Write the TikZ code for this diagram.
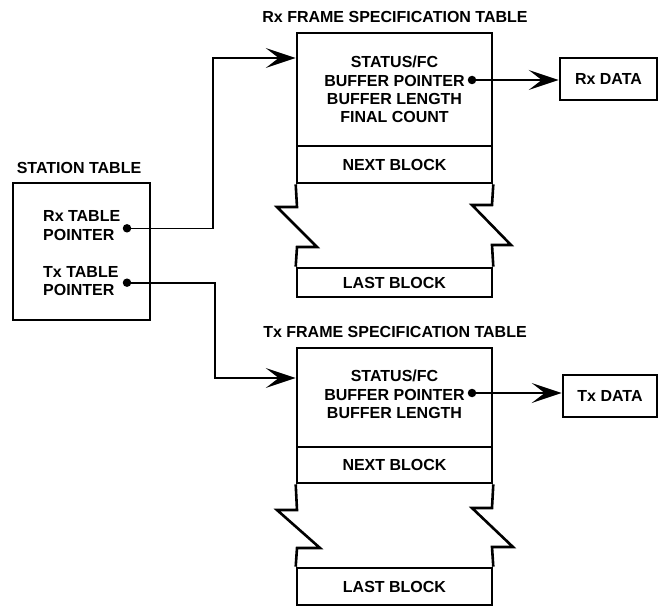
\documentclass[tikz,border=0pt]{standalone}
\usepackage{fontspec}
\setmainfont{Liberation Sans}
\usetikzlibrary{arrows.meta}
\tikzset{
  txtfont/.style={font=\fontsize{16}{18.3}\selectfont\bfseries},
  box/.style={draw, line width=2.6pt, inner sep=0pt, rectangle, txtfont},
  lbl/.style={inner sep=0pt, align=center, txtfont},
  conn/.style={line width=1.6pt},
  arr/.style={conn, -{Stealth[length=30pt,width=20pt,inset=13pt]}},
  dotc/.style={circle, fill, inner sep=0pt, minimum size=8.5pt},
  brk/.style={line width=2.6pt, line join=miter},
}
\begin{document}
\begin{tikzpicture}[x=1pt, y=-1pt]
\useasboundingbox (0,0) rectangle (659,607);

% Station table
\node[lbl] (sttitle) at (79,168) {STATION TABLE};
\node[box, minimum width=137pt, minimum height=137pt] (station) at (81.5,251.5) {};
\node[lbl, align=left, anchor=west] (rxptr) at (43,225.5) {Rx TABLE\\POINTER};
\node[lbl, align=left, anchor=west] (txptr) at (43,281) {Tx TABLE\\POINTER};
\node[dotc] (rxdot) at (127,228.3) {};
\node[dotc] (txdot) at (127,282.7) {};

% Rx frame specification table
\node[lbl] (rxtitle) at (395,17) {Rx FRAME SPECIFICATION TABLE};
\node[box, minimum width=195pt, minimum height=113pt] (rxmain) at (394.5,89.5) {};
\node[lbl] (rxtext) at (394.5,89.5) {STATUS/FC\\BUFFER POINTER\\BUFFER LENGTH\\FINAL COUNT};
\node[box, minimum width=195pt, minimum height=37pt] (rxnext) at (394.5,164.5) {NEXT BLOCK};
\node[box, minimum width=195pt, minimum height=29pt] (rxlast) at (394.5,282.5) {LAST BLOCK};
\node[dotc] (rxbp) at (472,80) {};
\draw[brk] (rxnext.south west) -- (297,207) -- (277,207) -- (317,247) -- (297,247) -- (rxlast.north west);
\draw[brk] (rxnext.south east) -- (492,205) -- (472,205) -- (511,245) -- (492,245) -- (rxlast.north east);
\node[box, minimum width=97pt, minimum height=42pt] (rxdata) at (608.5,79) {Rx DATA};

% Tx frame specification table
\node[lbl] (txtitle) at (395,332) {Tx FRAME SPECIFICATION TABLE};
\node[box, minimum width=195pt, minimum height=99pt] (txmain) at (394.5,397.5) {};
\node[lbl] (txtext) at (394.5,394.5) {STATUS/FC\\BUFFER POINTER\\BUFFER LENGTH};
\node[box, minimum width=195pt, minimum height=36pt] (txnext) at (394.5,465) {NEXT BLOCK};
\node[box, minimum width=195pt, minimum height=37pt] (txlast) at (394.5,586.5) {LAST BLOCK};
\node[dotc] (txbp) at (472,393) {};
\draw[brk] (txnext.south west) -- (297,510) -- (277,510) -- (320,548) -- (297,548) -- (txlast.north west);
\draw[brk] (txnext.south east) -- (492,508) -- (472,508) -- (513,547) -- (492,547) -- (txlast.north east);
\node[box, minimum width=94pt, minimum height=42pt] (txdata) at (610,396) {Tx DATA};

% connectors
\coordinate (rxbend) at (213,58);
\coordinate (txbend) at (215,378);
\draw[arr] (rxdot.center) -| (rxbend) -- (rxbend -| rxmain.west);
\draw[arr] (txdot.center) -| (txbend) -- (txbend -| txmain.west);
\draw[arr] (rxbp.center) -- (rxbp -| rxdata.west);
\draw[arr] (txbp.center) -- (txbp -| txdata.west);
\end{tikzpicture}
\end{document}
